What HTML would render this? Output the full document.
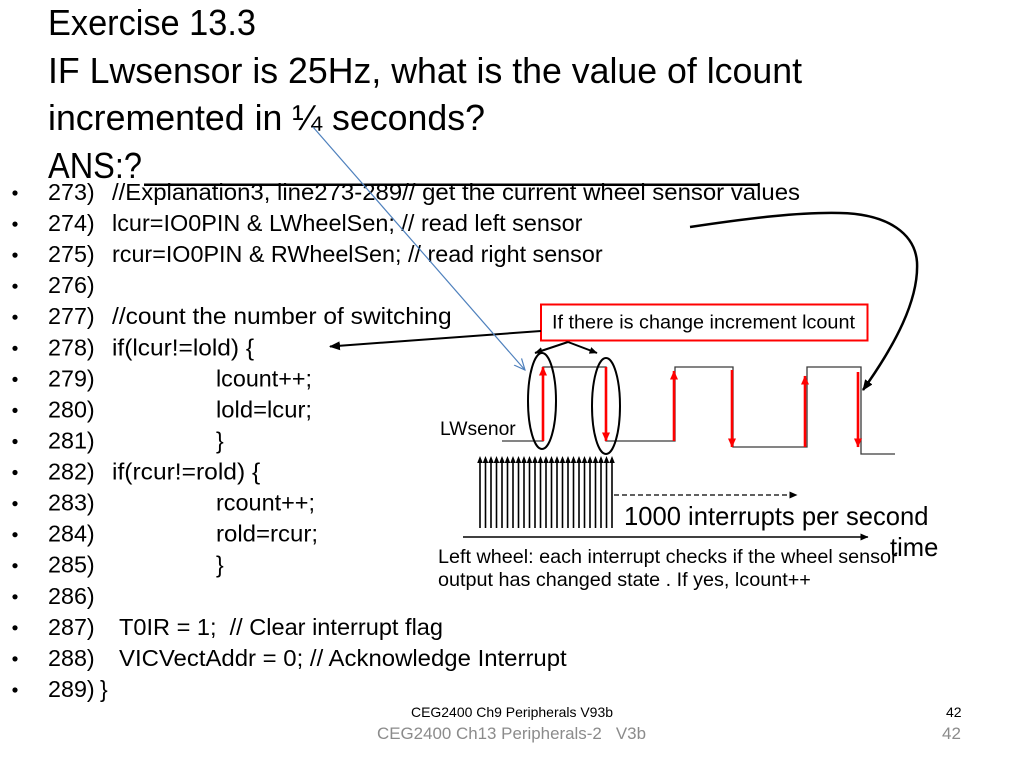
<!DOCTYPE html>
<html><head><meta charset="utf-8"><style>
html,body{margin:0;padding:0;background:#fff;}
svg{display:block;}
.t{font-family:"Liberation Sans",sans-serif;fill:#000;}
</style></head><body>
<svg width="1024" height="768" viewBox="0 0 1024 768" xmlns="http://www.w3.org/2000/svg">
<defs>
<marker id="mb" markerUnits="userSpaceOnUse" markerWidth="11" markerHeight="9" refX="10" refY="4.5" orient="auto" viewBox="0 0 11 9"><path d="M0,0 L11,4.5 L0,9 z" fill="#000"/></marker>
<marker id="mb2" markerUnits="userSpaceOnUse" markerWidth="8" markerHeight="7" refX="7.5" refY="3.5" orient="auto" viewBox="0 0 8 7"><path d="M0,0 L8,3.5 L0,7 z" fill="#000"/></marker>
<marker id="mr" markerUnits="userSpaceOnUse" markerWidth="9" markerHeight="8" refX="8.5" refY="4" orient="auto" viewBox="0 0 9 8"><path d="M0,0 L9,4 L0,8 z" fill="#f00"/></marker>
<marker id="mbl" markerUnits="userSpaceOnUse" markerWidth="12" markerHeight="12" refX="11" refY="6" orient="auto" viewBox="0 0 12 12"><path d="M0,1 L11,6 L0,11" fill="none" stroke="#4f81bd" stroke-width="1.2"/></marker>
</defs>

<!-- Title -->
<g class="t" font-size="36">
<text x="48" y="35" textLength="208" lengthAdjust="spacingAndGlyphs">Exercise 13.3</text>
<text x="48" y="83" textLength="754" lengthAdjust="spacingAndGlyphs">IF Lwsensor is 25Hz, what is the value of lcount</text>
<text x="48" y="130" textLength="437" lengthAdjust="spacingAndGlyphs">incremented in ¼ seconds?</text>
<text x="48" y="178" textLength="94" lengthAdjust="spacingAndGlyphs">ANS:?</text>
</g>
<rect x="144" y="183.5" width="614" height="2.5" fill="#000"/>

<!-- bullets -->
<g fill="#000">
<circle cx="15" cy="193" r="2.6"/><circle cx="15" cy="224.1" r="2.6"/><circle cx="15" cy="255.1" r="2.6"/><circle cx="15" cy="286.2" r="2.6"/><circle cx="15" cy="317.2" r="2.6"/><circle cx="15" cy="348.3" r="2.6"/><circle cx="15" cy="379.4" r="2.6"/><circle cx="15" cy="410.4" r="2.6"/><circle cx="15" cy="441.5" r="2.6"/><circle cx="15" cy="472.5" r="2.6"/><circle cx="15" cy="503.6" r="2.6"/><circle cx="15" cy="534.7" r="2.6"/><circle cx="15" cy="565.7" r="2.6"/><circle cx="15" cy="596.8" r="2.6"/><circle cx="15" cy="627.8" r="2.6"/><circle cx="15" cy="658.9" r="2.6"/><circle cx="15" cy="690" r="2.6"/>
</g>

<!-- code -->
<g class="t" font-size="23">
<text x="48" y="200" textLength="46.7" lengthAdjust="spacingAndGlyphs">273)</text>
<text x="112" y="200" textLength="688" lengthAdjust="spacingAndGlyphs">//Explanation3, line273-289// get the current wheel sensor values</text>
<text x="48" y="231.1" textLength="46.7" lengthAdjust="spacingAndGlyphs">274)</text>
<text x="112" y="231.1" textLength="470.5" lengthAdjust="spacingAndGlyphs">lcur=IO0PIN &amp; LWheelSen; // read left sensor</text>
<text x="48" y="262.1" textLength="46.7" lengthAdjust="spacingAndGlyphs">275)</text>
<text x="112" y="262.1" textLength="490.6" lengthAdjust="spacingAndGlyphs">rcur=IO0PIN &amp; RWheelSen; // read right sensor</text>
<text x="48" y="293.2" textLength="46.7" lengthAdjust="spacingAndGlyphs">276)</text>
<text x="48" y="324.2" textLength="46.7" lengthAdjust="spacingAndGlyphs">277)</text>
<text x="112" y="324.2" textLength="339.6" lengthAdjust="spacingAndGlyphs">//count the number of switching</text>
<text x="48" y="355.3" textLength="46.7" lengthAdjust="spacingAndGlyphs">278)</text>
<text x="112" y="355.3" textLength="142" lengthAdjust="spacingAndGlyphs">if(lcur!=lold) {</text>
<text x="48" y="386.4" textLength="46.7" lengthAdjust="spacingAndGlyphs">279)</text>
<text x="216" y="386.4" textLength="96" lengthAdjust="spacingAndGlyphs">lcount++;</text>
<text x="48" y="417.4" textLength="46.7" lengthAdjust="spacingAndGlyphs">280)</text>
<text x="216" y="417.4" textLength="96" lengthAdjust="spacingAndGlyphs">lold=lcur;</text>
<text x="48" y="448.5" textLength="46.7" lengthAdjust="spacingAndGlyphs">281)</text>
<text x="216" y="448.5">}</text>
<text x="48" y="479.5" textLength="46.7" lengthAdjust="spacingAndGlyphs">282)</text>
<text x="112" y="479.5" textLength="148.2" lengthAdjust="spacingAndGlyphs">if(rcur!=rold) {</text>
<text x="48" y="510.6" textLength="46.7" lengthAdjust="spacingAndGlyphs">283)</text>
<text x="216" y="510.6" textLength="99" lengthAdjust="spacingAndGlyphs">rcount++;</text>
<text x="48" y="541.7" textLength="46.7" lengthAdjust="spacingAndGlyphs">284)</text>
<text x="216" y="541.7" textLength="102" lengthAdjust="spacingAndGlyphs">rold=rcur;</text>
<text x="48" y="572.7" textLength="46.7" lengthAdjust="spacingAndGlyphs">285)</text>
<text x="216" y="572.7">}</text>
<text x="48" y="603.8" textLength="46.7" lengthAdjust="spacingAndGlyphs">286)</text>
<text x="48" y="634.8" textLength="46.7" lengthAdjust="spacingAndGlyphs">287)</text>
<text x="119" y="634.8" textLength="324" lengthAdjust="spacingAndGlyphs" xml:space="preserve">T0IR = 1;  // Clear interrupt flag</text>
<text x="48" y="665.9" textLength="46.7" lengthAdjust="spacingAndGlyphs">288)</text>
<text x="119" y="665.9" textLength="447.7" lengthAdjust="spacingAndGlyphs">VICVectAddr = 0; // Acknowledge Interrupt</text>
<text x="48" y="697" textLength="46.7" lengthAdjust="spacingAndGlyphs">289)</text>
<text x="100" y="697">}</text>
</g>

<!-- red callout box -->
<rect x="541" y="304.5" width="326.5" height="36" fill="#fff" stroke="#f00" stroke-width="2"/>
<text class="t" x="552" y="328.3" font-size="19.8" textLength="303" lengthAdjust="spacingAndGlyphs">If there is change increment lcount</text>

<!-- arrow into if(lcur!=lold) -->
<line x1="541" y1="331" x2="330" y2="346.5" stroke="#000" stroke-width="2" marker-end="url(#mb)"/>

<!-- double arrow from box -->
<line x1="568" y1="342" x2="535" y2="353" stroke="#000" stroke-width="2" marker-end="url(#mb2)"/>
<line x1="568" y1="342" x2="597" y2="353" stroke="#000" stroke-width="2" marker-end="url(#mb2)"/>

<!-- waveform -->
<path d="M502,441 H543 V367 H606 V441 H675 V367 H733 V447 H807 V367 H861 V454 H895" fill="none" stroke="#3a3a3a" stroke-width="1.3"/>

<!-- red arrows -->
<g stroke="#f00" stroke-width="2.6" fill="none">
<line x1="543" y1="441" x2="543" y2="367" marker-end="url(#mr)"/>
<line x1="606" y1="367" x2="606" y2="441" marker-end="url(#mr)"/>
<line x1="674" y1="441" x2="674" y2="371" marker-end="url(#mr)"/>
<line x1="732" y1="370" x2="732" y2="447" marker-end="url(#mr)"/>
<line x1="805" y1="447" x2="805" y2="376" marker-end="url(#mr)"/>
<line x1="858" y1="372" x2="858" y2="447" marker-end="url(#mr)"/>
</g>

<!-- ellipses -->
<ellipse cx="542" cy="401" rx="14" ry="48" fill="none" stroke="#000" stroke-width="2"/>
<ellipse cx="606" cy="406" rx="14" ry="48" fill="none" stroke="#000" stroke-width="2"/>

<text class="t" x="440" y="435" font-size="19.3">LWsenor</text>

<!-- blue arrow -->
<line x1="313" y1="127" x2="525" y2="370" stroke="#4f81bd" stroke-width="1.2" marker-end="url(#mbl)"/>

<!-- curved arrow -->
<path d="M690,227 C750,218 800,212 840,213 C890,214 915,235 917,262 C919,300 895,345 863,390" fill="none" stroke="#000" stroke-width="2.5" marker-end="url(#mb)"/>

<!-- interrupt ticks -->
<path d="M480,462V528 M485.5,462V528 M491,462V528 M496.5,462V528 M502,462V528 M507.5,462V528 M513,462V528 M518.5,462V528 M524,462V528 M529.5,462V528 M535,462V528 M540.5,462V528 M546,462V528 M551.5,462V528 M557,462V528 M562.5,462V528 M568,462V528 M573.5,462V528 M579,462V528 M584.5,462V528 M590,462V528 M595.5,462V528 M601,462V528 M606.5,462V528 M612,462V528" stroke="#000" stroke-width="1.6" fill="none"/>
<path d="M477.2,463L480,456L482.8,463Z M482.7,463L485.5,456L488.3,463Z M488.2,463L491,456L493.8,463Z M493.7,463L496.5,456L499.3,463Z M499.2,463L502,456L504.8,463Z M504.7,463L507.5,456L510.3,463Z M510.2,463L513,456L515.8,463Z M515.7,463L518.5,456L521.3,463Z M521.2,463L524,456L526.8,463Z M526.7,463L529.5,456L532.3,463Z M532.2,463L535,456L537.8,463Z M537.7,463L540.5,456L543.3,463Z M543.2,463L546,456L548.8,463Z M548.7,463L551.5,456L554.3,463Z M554.2,463L557,456L559.8,463Z M559.7,463L562.5,456L565.3,463Z M565.2,463L568,456L570.8,463Z M570.7,463L573.5,456L576.3,463Z M576.2,463L579,456L581.8,463Z M581.7,463L584.5,456L587.3,463Z M587.2,463L590,456L592.8,463Z M592.7,463L595.5,456L598.3,463Z M598.2,463L601,456L603.8,463Z M603.7,463L606.5,456L609.3,463Z M609.2,463L612,456L614.8,463Z" fill="#000"/>

<!-- dashed arrow -->
<line x1="614" y1="495" x2="797" y2="495" stroke="#000" stroke-width="1.3" stroke-dasharray="5,3" marker-end="url(#mb2)"/>

<!-- time axis -->
<line x1="463" y1="537" x2="868" y2="537" stroke="#000" stroke-width="1.5" marker-end="url(#mb2)"/>

<text class="t" x="624" y="525" font-size="25.6">1000 interrupts per second</text>
<text class="t" x="890" y="556" font-size="25.6">time</text>
<text class="t" x="438" y="563" font-size="19.8">Left wheel: each interrupt checks if the wheel sensor</text>
<text class="t" x="438" y="586" font-size="19.8">output has changed state . If yes, lcount++</text>

<!-- footers -->
<text class="t" x="411" y="717" font-size="14" textLength="202" lengthAdjust="spacingAndGlyphs">CEG2400 Ch9 Peripherals V93b</text>
<text class="t" x="946" y="717" font-size="14">42</text>
<text class="t" x="377" y="739" font-size="17" style="fill:#8b8b8b" textLength="269" lengthAdjust="spacingAndGlyphs" xml:space="preserve">CEG2400 Ch13 Peripherals-2   V3b</text>
<text class="t" x="942" y="739" font-size="17" style="fill:#8b8b8b">42</text>
</svg>
</body></html>
